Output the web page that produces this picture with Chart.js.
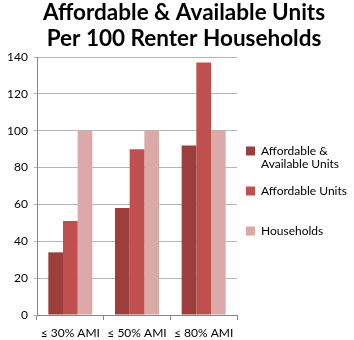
<!DOCTYPE html>
<html>
<head>
<meta charset="utf-8">
<script src="https://cdn.jsdelivr.net/npm/chart.js@4/dist/chart.umd.min.js"></script>
<style>
  html,body{margin:0;padding:0;background:#fff;}
  #wrap{width:354px;height:340px;position:relative;}
</style>
</head>
<body>
<div id="wrap"><canvas id="c" width="354" height="340"></canvas></div>
<script>
const categories = ["≤ 30% AMI", "≤ 50% AMI", "≤ 80% AMI"];
const affordableAvailable = [34, 58, 92];
const affordableUnits = [51, 90, 137];
const households = [100, 100, 100];
const seriesNames = ["Affordable & Available Units", "Affordable Units", "Households"];
const legendLines = [["Affordable &", "Available Units"], ["Affordable Units", ""], "Households"];
const titleLines = ["Affordable & Available Units", "Per 100 Renter Households"];
const yTicks = [0, 20, 40, 60, 80, 100, 120, 140];

const colors = ["#9C3E3B", "#C0504D", "#DBA9A8"];
const series = [affordableAvailable, affordableUnits, households];

const LEGEND_WIDTH = 117;
const layoutFix = {
  id: 'layoutFix',
  afterLayout(chart) {
    if (chart.legend) {
      chart.legend.left -= 5;
      chart.legend.top += 21;
      chart.legend.bottom += 21;
    }
    if (chart.titleBlock) {
      chart.titleBlock.left += 7;
      chart.titleBlock.right += 7;
    }
  }
};

const chart = new Chart(document.getElementById('c'), {
  type: 'bar',
  data: {
    labels: categories,
    datasets: series.map((d, i) => ({
      label: seriesNames[i],
      data: d,
      backgroundColor: colors[i],
      borderWidth: 0,
      categoryPercentage: 0.66,
      barPercentage: 1.0
    }))
  },
  plugins: [layoutFix],
  options: {
    responsive: false,
    animation: false,
    devicePixelRatio: 1,
    layout: { padding: { left: 0, right: 0, top: 0, bottom: 0 } },
    plugins: {
      title: {
        display: true,
        text: titleLines,
        color: '#000',
        font: { family: 'Lato', size: 22.5, weight: 'bold', lineHeight: '26px' },
        padding: { top: 0, bottom: 5 }
      },
      legend: {
        position: 'right',
        align: 'center',
        labels: {
          color: '#000',
          font: { family: 'Lato', size: 12, lineHeight: '13px' },
          boxWidth: 9,
          boxHeight: 9,
          padding: 14,
          generateLabels: (chart) => chart.data.datasets.map((ds, i) => ({
            text: legendLines[i],
            fillStyle: ds.backgroundColor,
            strokeStyle: ds.backgroundColor,
            lineWidth: 0,
            datasetIndex: i,
            hidden: false
          }))
        }
      },
      tooltip: { enabled: false }
    },
    scales: {
      x: {
        afterFit: (s) => { s.height = 25; },
        grid: { display: true, drawOnChartArea: false, drawTicks: true, tickLength: 5, color: '#888' },
        border: { display: true, color: '#888' },
        ticks: { color: '#000', font: { family: 'Lato', size: 12 }, padding: 6 }
      },
      y: {
        min: 0, max: 140,
        afterBuildTicks: (s) => { s.ticks = yTicks.map(v => ({ value: v })); },
        afterFit: (s) => { s.width = 37; },
        grid: { color: '#B4B4B4', tickLength: 3, drawTicks: true },
        border: { display: true, color: '#888' },
        ticks: { color: '#000', font: { family: 'Lato', size: 12 }, padding: 6 }
      }
    }
  }
});
const origFit = chart.legend.fit.bind(chart.legend);
chart.legend.fit = function () { origFit(); this.width = LEGEND_WIDTH; this.right = this.left + LEGEND_WIDTH; };
chart.update();
</script>
</body>
</html>
